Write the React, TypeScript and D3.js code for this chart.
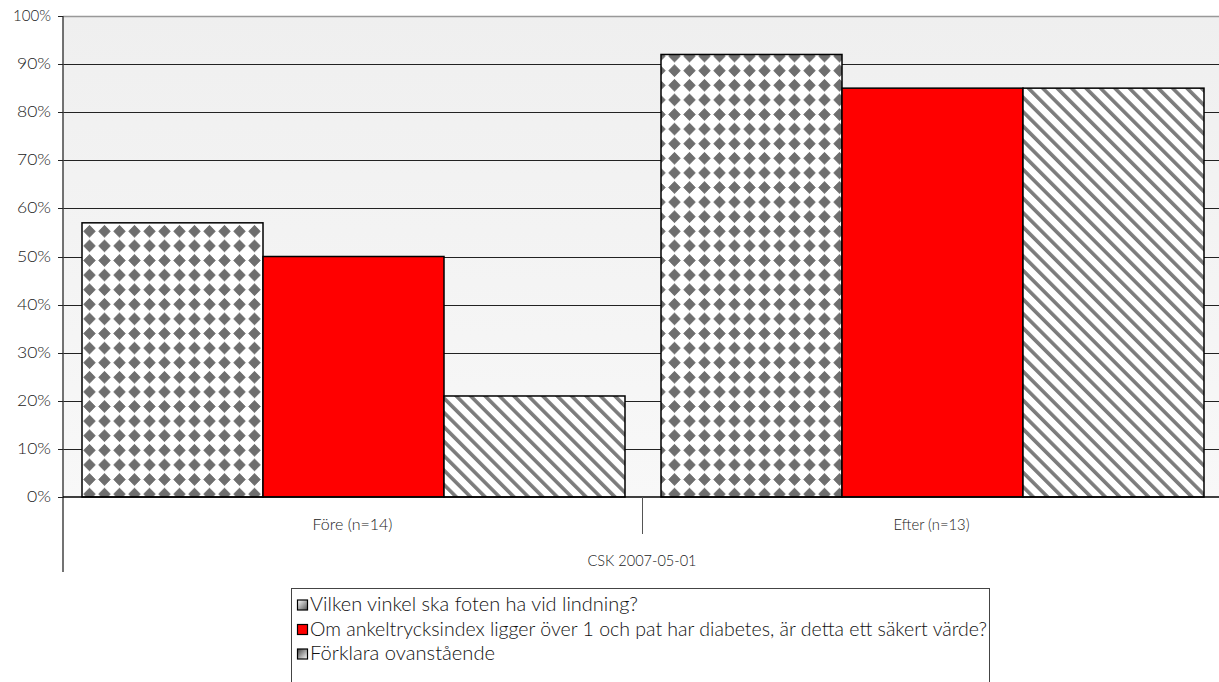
import React from "react";
import * as d3 from "d3";

const categories = ["Före (n=14)", "Efter (n=13)"];
const seriesNames = [
  "Vilken vinkel ska foten ha vid lindning?",
  "Om ankeltrycksindex ligger över 1 och pat har diabetes, är detta ett säkert värde?",
  "Förklara ovanstående",
];
const vilkenValues = [0.57, 0.92];
const ankelValues = [0.5, 0.85];
const forklaraValues = [0.21, 0.85];
const yTicks = [0, 0.1, 0.2, 0.3, 0.4, 0.5, 0.6, 0.7, 0.8, 0.9, 1.0];
const axisTitle = "CSK 2007-05-01";

const FONT = "Lato, 'Open Sans', sans-serif";

export default function App() {
  const W = 1219, H = 682;
  const left = 63, right = 1221, top = 16, bottom = 497;
  const x0 = d3.scaleBand<string>().domain(categories).range([left, right]).paddingInner(0).paddingOuter(0);
  const bw = x0.bandwidth();
  const x1 = d3.scaleBand<number>().domain([0, 1, 2]).range([19, bw - 17]).padding(0);
  const y = d3.scaleLinear().domain([0, 1]).range([bottom, top]);
  const fills = ["url(#diamonds)", "#ff0000", "url(#hatch)"];
  const series = [vilkenValues, ankelValues, forklaraValues];
  const fmt = d3.format(".0%");
  const tickLen = (s: string) => (s.length === 4 ? 38 : s.length === 3 ? 34 : 24);
  const catLen = [80, 76];
  const legLen = [328, 677, 185];
  const legBase = [611, 635.5, 660];

  return (
    <svg width={W} height={H} style={{ position: "absolute", left: 0, top: 0, display: "block" }}>
      <defs>
        <linearGradient id="bg" x1="0" y1="0" x2="0" y2="1">
          <stop offset="0" stopColor="#efefef" />
          <stop offset="1" stopColor="#f8f8f8" />
        </linearGradient>
        <pattern id="diamonds" patternUnits="userSpaceOnUse" width={15} height={14.6} x={82} y={224}>
          <rect width={15} height={14.6} fill="#ffffff" />
          <path d="M7.5,1.3 L13.3,7.3 L7.5,13.3 L1.7,7.3 Z" fill="#6e6e6e" stroke="#6e6e6e" strokeWidth={0.8} strokeLinejoin="round" />
        </pattern>
        <pattern id="hatch" patternUnits="userSpaceOnUse" width={10.2} height={10.2} patternTransform="rotate(-45)">
          <rect width={10.2} height={10.2} fill="#ffffff" />
          <rect x={0} y={0} width={3.6} height={10.2} fill="#7c7c7c" />
        </pattern>
        <linearGradient id="lg1" x1="0" y1="0" x2="1" y2="1">
          <stop offset="0" stopColor="#ffffff" />
          <stop offset="1" stopColor="#555555" />
        </linearGradient>
        <linearGradient id="lg3" x1="0" y1="0" x2="1" y2="1">
          <stop offset="0" stopColor="#444444" />
          <stop offset="1" stopColor="#ffffff" />
        </linearGradient>
      </defs>
      <rect x={0} y={0} width={W} height={H} fill="#ffffff" />
      <rect x={left} y={top} width={right - left} height={bottom - top} fill="url(#bg)" />
      <line x1={left} x2={W} y1={top + 0.5} y2={top + 0.5} stroke="#999" strokeWidth={1.5} />
      {yTicks.slice(1, -1).map((t) => (
        <line key={t} x1={left} x2={W} y1={Math.round(y(t)) + 0.5} y2={Math.round(y(t)) + 0.5} stroke="#222" strokeWidth={1} />
      ))}
      {categories.map((c, ci) =>
        series.map((vals, si) => (
          <rect
            key={c + si}
            x={(x0(c) as number) + (x1(si) as number)}
            y={y(vals[ci])}
            width={x1.bandwidth()}
            height={bottom - y(vals[ci])}
            fill={fills[si]}
            stroke="#000"
            strokeWidth={1.5}
          />
        ))
      )}
      {/* axes */}
      <line x1={left} x2={left} y1={top} y2={572} stroke="#444" strokeWidth={1.5} />
      <line x1={left} x2={W} y1={bottom} y2={bottom} stroke="#000" strokeWidth={1.5} />
      {yTicks.map((t) => {
        const s = fmt(t);
        return (
          <g key={"t" + t}>
            <line x1={58} x2={left} y1={Math.round(y(t)) + 0.5} y2={Math.round(y(t)) + 0.5} stroke="#222" />
            <text x={51} y={y(t) + 5} textAnchor="end" fontFamily={FONT} fontWeight={300} fontSize={15} fill="#222"
              textLength={tickLen(s)} lengthAdjust="spacingAndGlyphs">
              {s}
            </text>
          </g>
        );
      })}
      <line x1={642.5} x2={642.5} y1={bottom} y2={534} stroke="#555" strokeWidth={1} />
      {categories.map((c, i) => (
        <text key={c} x={(x0(c) as number) + bw / 2 - catLen[i] / 2} y={530} fontFamily={FONT} fontWeight={300} fontSize={16} fill="#222"
          textLength={catLen[i]} lengthAdjust="spacingAndGlyphs">
          {c}
        </text>
      ))}
      <text x={642 - 54.5} y={566} fontFamily={FONT} fontWeight={300} fontSize={16} fill="#222" textLength={109} lengthAdjust="spacingAndGlyphs">
        {axisTitle}
      </text>
      {/* legend */}
      <rect x={291.5} y={588.5} width={698} height={110} fill="#fff" stroke="#444" strokeWidth={1} />
      {seriesNames.map((n, i) => {
        const base = legBase[i];
        const sw = i === 0 ? "url(#lg1)" : i === 1 ? "#ff0000" : "url(#lg3)";
        return (
          <g key={n}>
            <rect x={297.5} y={base - 11} width={10} height={10} fill={sw} stroke="#000" strokeWidth={1.2} />
            <text x={310} y={base} fontFamily={FONT} fontWeight={300} fontSize={19} fill="#111" textLength={legLen[i]} lengthAdjust="spacingAndGlyphs">
              {n}
            </text>
          </g>
        );
      })}
    </svg>
  );
}
